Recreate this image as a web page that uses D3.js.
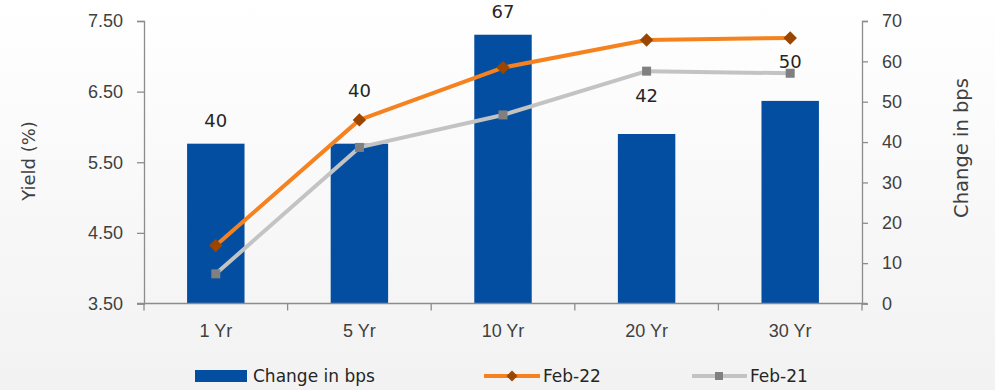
<!DOCTYPE html>
<html><head><meta charset="utf-8">
<script src="https://cdn.jsdelivr.net/npm/d3@7"></script>
<style>
html,body{margin:0;padding:0;background:#fff;}
svg{display:block;font-family:"DejaVu Sans",sans-serif;}
</style></head>
<body>
<svg id="c" width="995" height="390"></svg>
<script>
// ---- data ----
const categories = ["1 Yr", "5 Yr", "10 Yr", "20 Yr", "30 Yr"];
const changeBps = [39.6, 39.6, 66.6, 42, 50.2];
const feb22 = [4.32, 6.10, 6.84, 7.23, 7.26];
const feb21 = [3.92, 5.71, 6.17, 6.79, 6.76];
const yieldTicks = [3.5, 4.5, 5.5, 6.5, 7.5];
const bpsTicks = [0, 10, 20, 30, 40, 50, 60, 70];
const legendLabels = ["Change in bps", "Feb-22", "Feb-21"];

(function(){
// ---- layout ----
const W = 995, H = 390;
const pL = 144, pR = 862, pT = 21, pB = 303.5;
const textCol = "#404040", axisCol = "#8c8c8c";
const barCol = "#044EA2", orange = "#F5821F", orangeMk = "#9A4500", grey = "#C3C3C3", greyMk = "#808080";

const svg = d3.select("#c");
const defs = svg.append("defs");
const g = defs.append("linearGradient").attr("id","bg").attr("x1",0).attr("y1",0).attr("x2",0).attr("y2",1);
g.append("stop").attr("offset","0%").attr("stop-color","#ffffff");
g.append("stop").attr("offset","100%").attr("stop-color","#f2f2f2");
svg.append("rect").attr("width",W).attr("height",H).attr("fill","url(#bg)");

const x = d3.scaleBand().domain(categories).range([pL, pR]).paddingInner(0.6).paddingOuter(0.3);
const xBand = d3.scaleBand().domain(categories).range([pL, pR]).padding(0);
const yL = d3.scaleLinear().domain([3.5, 7.5]).range([pB, pT]);
const yR = d3.scaleLinear().domain([0, 70]).range([pB, pT]);

// bars
svg.append("g").selectAll("rect").data(changeBps).join("rect")
  .attr("x",(d,i)=>x(categories[i])).attr("width",x.bandwidth())
  .attr("y",d=>yR(d)).attr("height",d=>yR(0)-yR(d)).attr("fill",barCol);

// axes
const axL = svg.append("g").attr("transform",`translate(${pL},0)`)
  .call(d3.axisLeft(yL).tickValues(yieldTicks).tickFormat(d3.format(".2f")).tickSize(7).tickPadding(14));
const axR = svg.append("g").attr("transform",`translate(${pR},0)`)
  .call(d3.axisRight(yR).tickValues(bpsTicks).tickSize(6).tickPadding(14));
const axB = svg.append("g").attr("transform",`translate(0,${pB})`)
  .call(d3.axisBottom(xBand).tickSize(0).tickPadding(21));
svg.append("g").selectAll("line").data(d3.range(categories.length+1)).join("line")
  .attr("x1",i=>pL + i*xBand.step()).attr("x2",i=>pL + i*xBand.step())
  .attr("y1",pB).attr("y2",pB+7).attr("stroke",axisCol).attr("stroke-width",1.3);
svg.append("line").attr("x1",pL-7).attr("x2",pR+5).attr("y1",pB).attr("y2",pB)
  .attr("stroke",axisCol).attr("stroke-width",1.3);
[axL,axR,axB].forEach(a=>{
  a.select(".domain").attr("stroke",axisCol).attr("stroke-width",1.3);
  a.selectAll(".tick line").attr("stroke",axisCol).attr("stroke-width",1.3);
  a.selectAll("text").attr("fill",textCol).style("font-size","18px").style("font-family","inherit");
});
axB.select(".domain").remove();

// lines
const cx = i=>xBand(categories[i])+xBand.bandwidth()/2;
const lineGen = d3.line().x((d,i)=>cx(i)).y(d=>yL(d));
svg.append("path").datum(feb21).attr("d",lineGen).attr("fill","none").attr("stroke",grey).attr("stroke-width",4).attr("stroke-linejoin","round");
svg.append("path").datum(feb22).attr("d",lineGen).attr("fill","none").attr("stroke",orange).attr("stroke-width",4).attr("stroke-linejoin","round");
svg.append("g").selectAll("rect").data(feb21).join("rect")
  .attr("x",(d,i)=>cx(i)-4.5).attr("y",d=>yL(d)-4.5).attr("width",9).attr("height",9).attr("fill",greyMk);
svg.append("g").selectAll("path").data(feb22).join("path")
  .attr("d",d3.symbol(d3.symbolSquare, 90)()).attr("transform",(d,i)=>`translate(${cx(i)},${yL(d)}) rotate(45)`).attr("fill",orangeMk);

// data labels
const labelDy = [-23, -53, -23, -38, -39];
svg.append("g").selectAll("text").data(changeBps).join("text")
  .attr("x",(d,i)=>cx(i)).attr("y",(d,i)=>yR(d)+labelDy[i]).attr("dy","0.35em")
  .attr("text-anchor","middle").attr("fill","#262626").style("font-size","18px")
  .text(d=>d3.format(".0f")(d));

// axis titles
svg.append("text").attr("transform","translate(29,161) rotate(-90)").attr("text-anchor","middle").attr("dy","0.35em")
  .attr("fill",textCol).style("font-size","18px").text("Yield (%)");
svg.append("text").attr("transform","translate(961,148) rotate(-90)").attr("text-anchor","middle").attr("dy","0.35em")
  .attr("fill",textCol).style("font-size","19.5px").text("Change in bps");

// legend
const ly = 376;
const lg = svg.append("g");
lg.append("rect").attr("x",195).attr("y",ly-6).attr("width",52).attr("height",12).attr("fill",barCol);
lg.append("line").attr("x1",484).attr("x2",540).attr("y1",ly).attr("y2",ly).attr("stroke",orange).attr("stroke-width",4);
lg.append("path").attr("d",d3.symbol(d3.symbolSquare,60)()).attr("transform",`translate(512,${ly}) rotate(45)`).attr("fill",orangeMk);
lg.append("line").attr("x1",692).attr("x2",747).attr("y1",ly).attr("y2",ly).attr("stroke",grey).attr("stroke-width",4);
lg.append("rect").attr("x",715).attr("y",ly-4).attr("width",8).attr("height",8).attr("fill",greyMk);
[[253,legendLabels[0]],[543,legendLabels[1]],[750,legendLabels[2]]].forEach(([lx,t])=>{
  lg.append("text").attr("x",lx).attr("y",ly).attr("dy","0.35em").attr("fill","#262626").style("font-size","17px").text(t);
});
})();
</script>
</body></html>
